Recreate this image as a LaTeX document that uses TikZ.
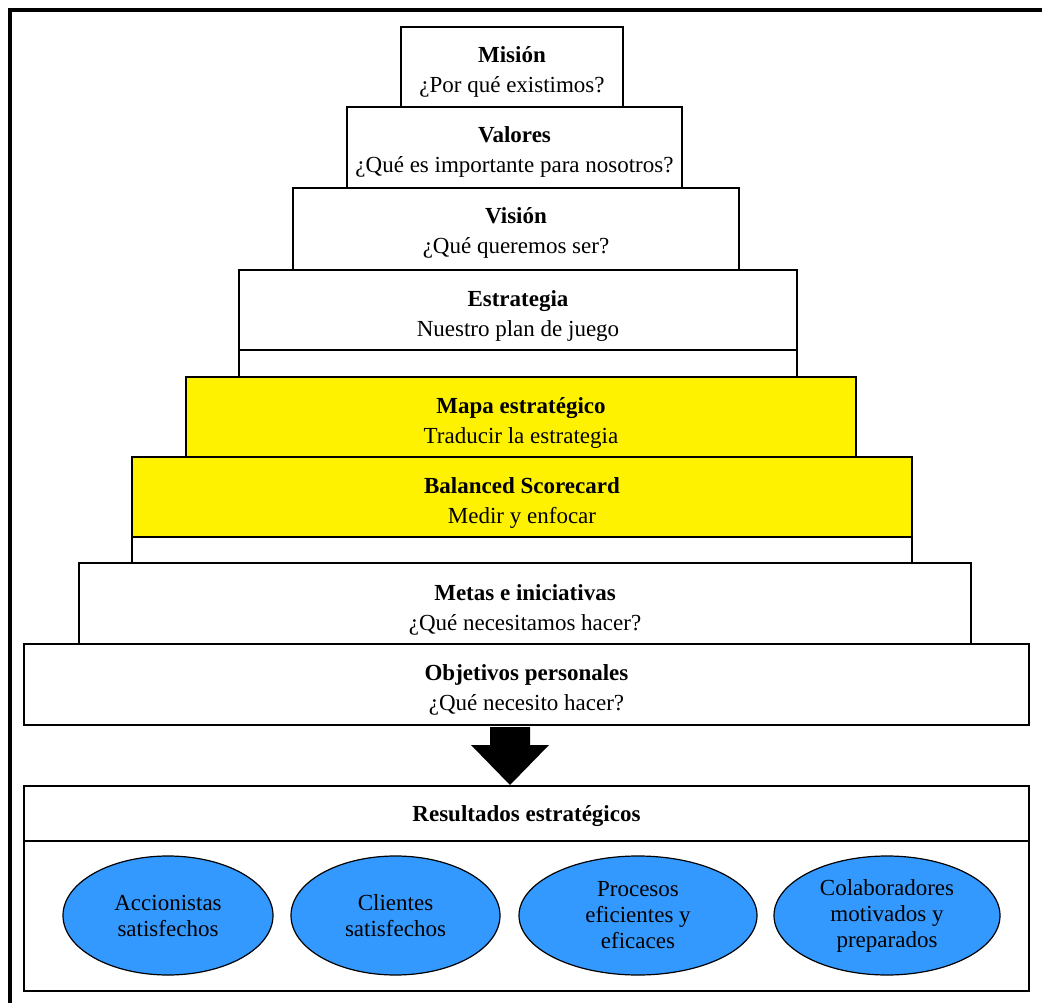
\documentclass[tikz,border=0pt]{standalone}
\usepackage{fontspec}
\setmainfont{Liberation Serif}
\usetikzlibrary{shapes.geometric}
\definecolor{tieryellow}{RGB}{255,242,0}
\definecolor{goalblue}{RGB}{51,153,255}
\tikzset{
  tier/.style={draw, line width=1.6pt, inner sep=0pt},
  tiertext/.style={anchor=base, align=center, inner sep=0pt, font=\fontsize{23}{30}\selectfont},
  goal/.style={ellipse, draw, line width=1.2pt, fill=goalblue, inner sep=0pt, align=center, font=\fontsize{23}{26}\selectfont}
}
\begin{document}
\begin{tikzpicture}[x=1pt,y=-1pt]
\useasboundingbox (0,0) rectangle (1042,1003);
\clip (0,0) rectangle (1042,1003);
\draw[line width=4pt] (9.5,1040) |- (1060,10);
% pyramid
\node[tier, minimum width=222, minimum height=80] (mision) at (512,67) {};
\node[tier, minimum width=335, minimum height=81] (valores) at (514.5,147.5) {};
\node[tier, minimum width=446, minimum height=82] (vision) at (516,229) {};
\node[tier, minimum width=558, minimum height=80] (estrategia) at (518,310) {};
\node[tier, minimum width=558, minimum height=27] (estrategiapad) at (518,363.5) {};
\node[tier, fill=tieryellow, minimum width=670, minimum height=80] (mapa) at (521,417) {};
\node[tier, fill=tieryellow, minimum width=780, minimum height=80] (bsc) at (522,497) {};
\node[tier, minimum width=780, minimum height=26] (bscpad) at (522,550) {};
\node[tier, minimum width=892, minimum height=81] (metas) at (525,603.5) {};
\node[tier, minimum width=1005, minimum height=81] (objetivos) at (526.5,684.5) {};
% base anchor sits on the second line
\node[tiertext] (misiontxt) at (512,93) {\textbf{Misión}\\¿Por qué existimos?};
\node[tiertext] (valorestxt) at (514.5,173) {\textbf{Valores}\\¿Qué es importante para nosotros?};
\node[tiertext] (visiontxt) at (516,254) {\textbf{Visión}\\¿Qué queremos ser?};
\node[tiertext] (estrategiatxt) at (518,336) {\textbf{Estrategia}\\Nuestro plan de juego};
\node[tiertext] (mapatxt) at (521,443) {\textbf{Mapa estratégico}\\Traducir la estrategia};
\node[tiertext] (bsctxt) at (522,523) {\textbf{Balanced Scorecard}\\Medir y enfocar};
\node[tiertext] (metastxt) at (525,630) {\textbf{Metas e iniciativas}\\¿Qué necesitamos hacer?};
\node[tiertext] (objetivostxt) at (526.5,710) {\textbf{Objetivos personales}\\¿Qué necesito hacer?};
% arrow
\fill (490,727) -- (530,727) -- (530,745) -- (549,745) -- (510,785) -- (471,745) -- (490,745) -- cycle;
% results
\node[tier, minimum width=1005, minimum height=55] (resultados) at (526.5,813.5) {};
\node[tier, minimum width=1005, minimum height=150] (resbody) at (526.5,916) {};
\node[tiertext] (resultadostxt) at (526.5,821) {\textbf{Resultados estratégicos}};
\node[goal, minimum width=210, minimum height=119] (accionistas) at (168,915.5) {Accionistas\\satisfechos};
\node[goal, minimum width=209, minimum height=119] (clientes) at (395.5,915.5) {Clientes\\satisfechos};
\node[goal, minimum width=238, minimum height=119] (procesos) at (638,915.5) {Procesos\\eficientes y\\eficaces};
\node[goal, minimum width=226, minimum height=119] (colaboradores) at (887,915.5) {Colaboradores\\motivados y\\preparados};
\end{tikzpicture}
\end{document}
